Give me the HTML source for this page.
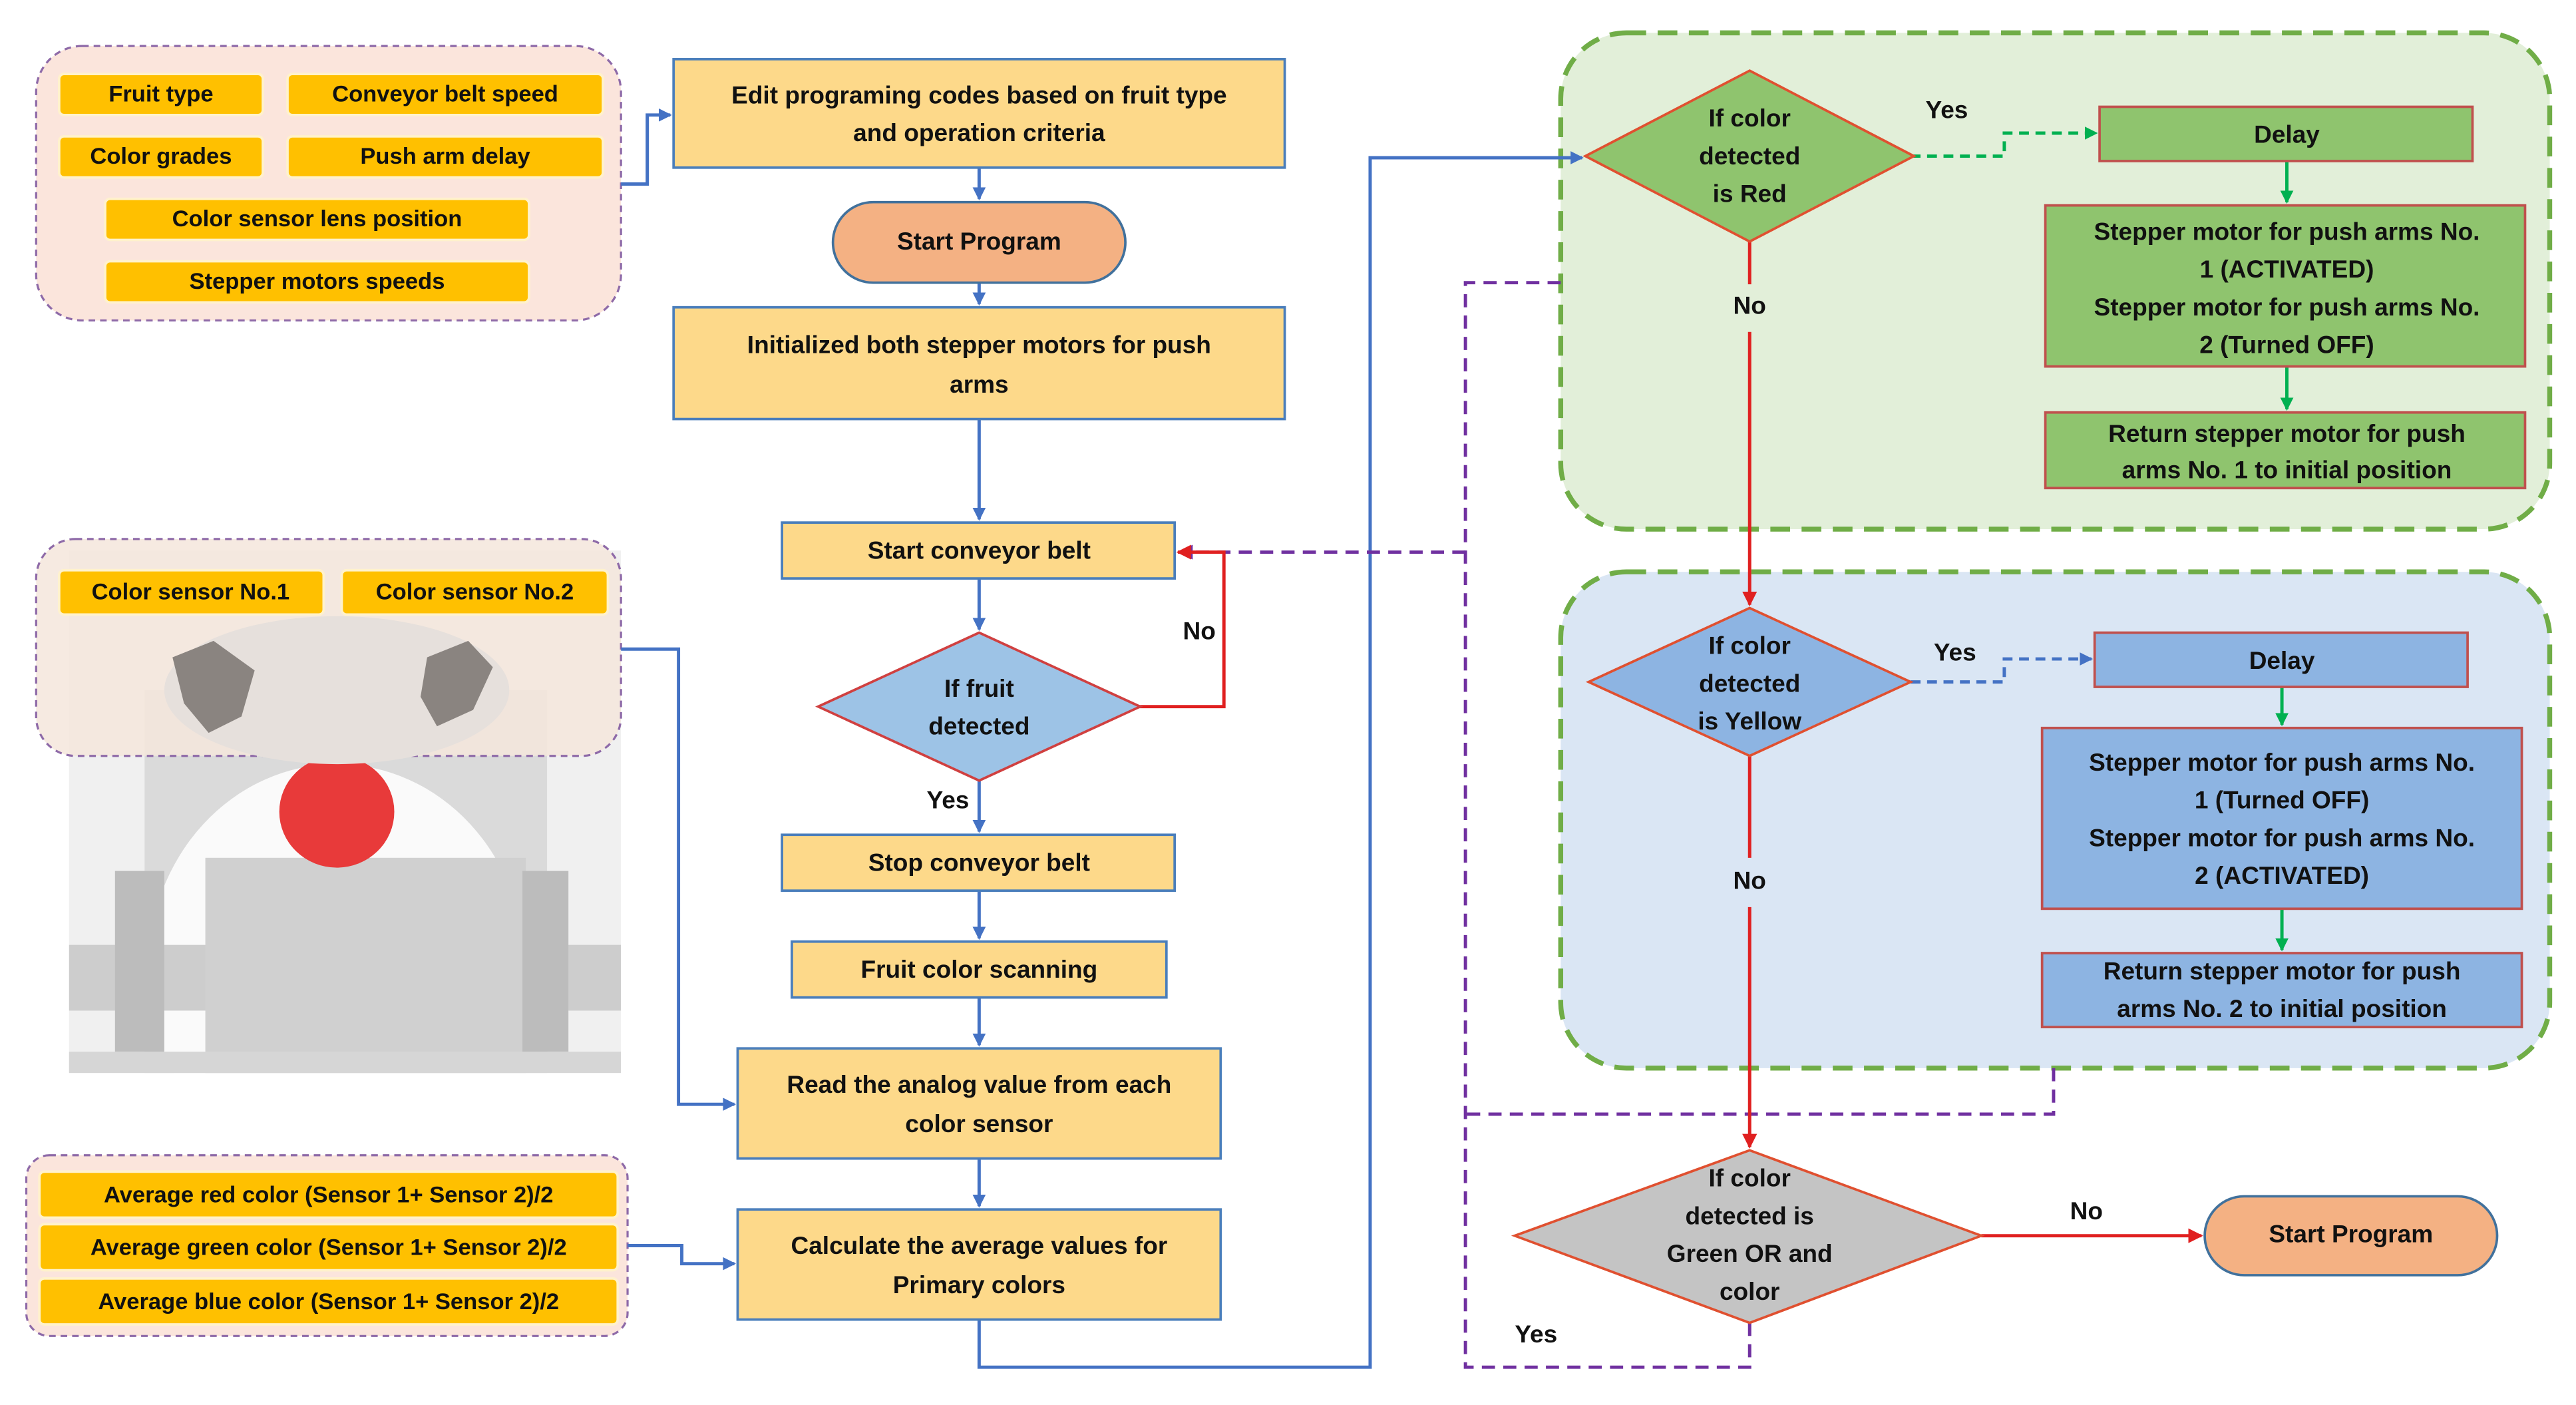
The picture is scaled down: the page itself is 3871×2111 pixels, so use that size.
<!DOCTYPE html>
<html><head><meta charset="utf-8"><style>
html,body{margin:0;padding:0;background:#fff;}
svg{display:block;}
text{font-family:"Liberation Sans",sans-serif;font-weight:bold;fill:#111;text-anchor:middle;dominant-baseline:middle;}
</style></head><body>
<svg width="3871" height="2111" viewBox="0 0 1568 855" preserveAspectRatio="none" xmlns="http://www.w3.org/2000/svg">
<defs>
<marker id="ab" markerWidth="8" markerHeight="8" refX="7" refY="4" orient="auto" markerUnits="userSpaceOnUse"><path d="M0,0 L8,4 L0,8 z" fill="#4472c4"/></marker>
<marker id="ar" markerWidth="9" markerHeight="9" refX="8" refY="4.5" orient="auto" markerUnits="userSpaceOnUse"><path d="M0,0 L9,4.5 L0,9 z" fill="#e02020"/></marker>
<marker id="ag" markerWidth="8" markerHeight="8" refX="7" refY="4" orient="auto" markerUnits="userSpaceOnUse"><path d="M0,0 L8,4 L0,8 z" fill="#00b050"/></marker>
<marker id="ap" markerWidth="9" markerHeight="9" refX="8" refY="4.5" orient="auto" markerUnits="userSpaceOnUse"><path d="M0,0 L9,4.5 L0,9 z" fill="#7030a0"/></marker>
<clipPath id="ill"><rect x="42" y="335" width="336" height="318"/></clipPath>
</defs>

<!-- left machine illustration -->
<g clip-path="url(#ill)">
<rect x="42" y="335" width="336" height="318" fill="#f0f0f0"/>
<rect x="88" y="420" width="245" height="233" fill="#dadada"/>
<ellipse cx="205" cy="590" rx="115" ry="125" fill="#fafafa"/>
<rect x="42" y="575" width="336" height="40" fill="#cdcdcd"/>
<rect x="125" y="522" width="195" height="131" fill="#d0d0d0"/>
<rect x="70" y="530" width="30" height="110" fill="#bcbcbc"/>
<rect x="318" y="530" width="28" height="110" fill="#bcbcbc"/>
<rect x="42" y="640" width="336" height="13" fill="#d6d6d6"/>
<ellipse cx="205" cy="494" rx="35" ry="34" fill="#e83a3a"/>
</g>

<!-- left box 1 -->
<rect x="22" y="28" width="356" height="167" rx="28" fill="#fbe5dc" stroke="#8e6aa8" stroke-width="1.3" stroke-dasharray="4,3"/>
<g fill="#ffc000" stroke="#fff2cc" stroke-width="1.5">
<rect x="36" y="45" width="124" height="25" rx="3"/>
<rect x="175" y="45" width="192" height="25" rx="3"/>
<rect x="36" y="83" width="124" height="25" rx="3"/>
<rect x="175" y="83" width="192" height="25" rx="3"/>
<rect x="64" y="121" width="258" height="25" rx="3"/>
<rect x="64" y="159" width="258" height="25" rx="3"/>
</g>
<g font-size="14">
<text x="98" y="58">Fruit type</text>
<text x="271" y="58">Conveyor belt speed</text>
<text x="98" y="96">Color grades</text>
<text x="271" y="96">Push arm delay</text>
<text x="193" y="134">Color sensor lens position</text>
<text x="193" y="172">Stepper motors speeds</text>
</g>

<!-- left sensor box -->
<rect x="22" y="328" width="356" height="132" rx="24" fill="#f5e6dc" fill-opacity="0.85" stroke="#8e6aa8" stroke-width="1.3" stroke-dasharray="4,3"/>
<ellipse cx="205" cy="420" rx="105" ry="45" fill="#e6e0dc"/>
<path d="M105,400 l25,-10 l25,18 l-8,28 l-20,10 l-15,-18z" fill="#8a8480"/>
<path d="M260,400 l25,-10 l15,16 l-12,26 l-22,10 l-10,-18z" fill="#8a8480"/>
<g fill="#ffc000" stroke="#fff2cc" stroke-width="1.5">
<rect x="36" y="347" width="161" height="27" rx="3"/>
<rect x="208" y="347" width="162" height="27" rx="3"/>
</g>
<text x="116" y="361" font-size="14">Color sensor No.1</text>
<text x="289" y="361" font-size="14">Color sensor No.2</text>

<!-- average box -->
<rect x="16" y="703" width="366" height="110" rx="14" fill="#fbe5dc" stroke="#8e6aa8" stroke-width="1.3" stroke-dasharray="4,3"/>
<g fill="#ffc000" stroke="#fff2cc" stroke-width="1.5">
<rect x="24" y="713" width="352" height="28" rx="3"/>
<rect x="24" y="745" width="352" height="28" rx="3"/>
<rect x="24" y="778" width="352" height="28" rx="3"/>
</g>
<g font-size="14">
<text x="200" y="728">Average red color (Sensor 1+ Sensor 2)/2</text>
<text x="200" y="760">Average green color (Sensor 1+ Sensor 2)/2</text>
<text x="200" y="793">Average blue color (Sensor 1+ Sensor 2)/2</text>
</g>

<!-- right containers -->
<rect x="950" y="20" width="602" height="302" rx="40" fill="#e2efd9" stroke="#70ad47" stroke-width="3" stroke-dasharray="12,7"/>
<rect x="950" y="348" width="602" height="302" rx="40" fill="#dae6f4" stroke="#70ad47" stroke-width="3" stroke-dasharray="12,7"/>

<!-- blue connectors -->
<g stroke="#4472c4" stroke-width="2" fill="none">
<polyline points="378,112 394,112 394,70 408,70" marker-end="url(#ab)"/>
<polyline points="378,395 413,395 413,672 447,672" marker-end="url(#ab)"/>
<polyline points="382,758 415,758 415,769 447,769" marker-end="url(#ab)"/>
<polyline points="596,803 596,832 834,832 834,96 963,96" marker-end="url(#ab)"/>
<line x1="596" y1="102" x2="596" y2="121" marker-end="url(#ab)"/>
<line x1="596" y1="172" x2="596" y2="185" marker-end="url(#ab)"/>
<line x1="596" y1="255" x2="596" y2="316" marker-end="url(#ab)"/>
<line x1="596" y1="352" x2="596" y2="383" marker-end="url(#ab)"/>
<line x1="596" y1="475" x2="596" y2="506" marker-end="url(#ab)"/>
<line x1="596" y1="542" x2="596" y2="571" marker-end="url(#ab)"/>
<line x1="596" y1="607" x2="596" y2="636" marker-end="url(#ab)"/>
<line x1="596" y1="705" x2="596" y2="734" marker-end="url(#ab)"/>
</g>

<!-- purple dashed -->
<g stroke="#7030a0" stroke-width="2" fill="none" stroke-dasharray="8,5">
<polyline points="950,172 892,172 892,832 1065,832 1065,805"/>
<polyline points="1250,650 1250,678 892,678"/>
<line x1="892" y1="336" x2="718" y2="336" marker-end="url(#ap)"/>
</g>

<!-- red connectors -->
<g stroke="#e02020" stroke-width="2" fill="none">
<polyline points="693,430 745,430 745,336 717,336" marker-end="url(#ar)"/>
<line x1="1065" y1="147" x2="1065" y2="173"/>
<line x1="1065" y1="202" x2="1065" y2="368" marker-end="url(#ar)"/>
<line x1="1065" y1="460" x2="1065" y2="522"/>
<line x1="1065" y1="552" x2="1065" y2="698" marker-end="url(#ar)"/>
<line x1="1206" y1="752" x2="1340" y2="752" marker-end="url(#ar)"/>
</g>

<!-- yes dashed -->
<polyline points="1163,95 1220,95 1220,81 1276,81" fill="none" stroke="#00b050" stroke-width="2" stroke-dasharray="6,4" marker-end="url(#ag)"/>
<polyline points="1163,415 1220,415 1220,401 1273,401" fill="none" stroke="#4472c4" stroke-width="2" stroke-dasharray="6,4" marker-end="url(#ab)"/>
<g stroke="#00b050" stroke-width="2">
<line x1="1392" y1="98" x2="1392" y2="123" marker-end="url(#ag)"/>
<line x1="1392" y1="223" x2="1392" y2="249" marker-end="url(#ag)"/>
<line x1="1389" y1="418" x2="1389" y2="441" marker-end="url(#ag)"/>
<line x1="1389" y1="553" x2="1389" y2="578" marker-end="url(#ag)"/>
</g>

<!-- main flow boxes -->
<g fill="#fdd98a" stroke="#4a7ebb" stroke-width="1.5">
<rect x="410" y="36" width="372" height="66"/>
<rect x="410" y="187" width="372" height="68"/>
<rect x="476" y="318" width="239" height="34"/>
<rect x="476" y="508" width="239" height="34"/>
<rect x="482" y="573" width="228" height="34"/>
<rect x="449" y="638" width="294" height="67"/>
<rect x="449" y="736" width="294" height="67"/>
</g>
<rect x="507" y="123" width="178" height="49" rx="24.5" fill="#f4b183" stroke="#41719c" stroke-width="1.5"/>
<polygon points="596,385 694,430 596,475 498,430" fill="#9dc3e6" stroke="#d04040" stroke-width="1.5"/>
<g font-size="15">
<text x="596" y="59">Edit programing codes based on fruit type</text>
<text x="596" y="82">and operation criteria</text>
<text x="596" y="148">Start Program</text>
<text x="596" y="211">Initialized both stepper motors for push</text>
<text x="596" y="235">arms</text>
<text x="596" y="336">Start conveyor belt</text>
<text x="596" y="420">If fruit</text>
<text x="596" y="443">detected</text>
<text x="577" y="488">Yes</text>
<text x="730" y="385">No</text>
<text x="596" y="526">Stop conveyor belt</text>
<text x="596" y="591">Fruit color scanning</text>
<text x="596" y="661">Read the analog value from each</text>
<text x="596" y="685">color sensor</text>
<text x="596" y="759">Calculate the average values for</text>
<text x="596" y="783">Primary colors</text>
</g>

<!-- right shapes -->
<polygon points="1065,43 1165,95 1065,147 965,95" fill="#8fc46e" stroke="#e05030" stroke-width="1.5"/>
<polygon points="1065,370 1163,415 1065,460 967,415" fill="#8db4e2" stroke="#e05030" stroke-width="1.5"/>
<polygon points="1065,700 1206,752 1065,805 922,752" fill="#c4c4c4" stroke="#e05030" stroke-width="1.5"/>
<g fill="#8fc46e" stroke="#c0504d" stroke-width="1.5">
<rect x="1278" y="65" width="227" height="33"/>
<rect x="1245" y="125" width="292" height="98"/>
<rect x="1245" y="251" width="292" height="46"/>
</g>
<g fill="#8db4e2" stroke="#c0504d" stroke-width="1.5">
<rect x="1275" y="385" width="227" height="33"/>
<rect x="1243" y="443" width="292" height="110"/>
<rect x="1243" y="580" width="292" height="45"/>
</g>
<rect x="1342" y="728" width="178" height="48" rx="24" fill="#f4b183" stroke="#41719c" stroke-width="1.5"/>
<g font-size="15">
<text x="1065" y="73">If color</text>
<text x="1065" y="96">detected</text>
<text x="1065" y="119">is Red</text>
<text x="1185" y="68">Yes</text>
<text x="1065" y="187">No</text>
<text x="1392" y="83">Delay</text>
<text x="1392" y="142">Stepper motor for push arms No.</text>
<text x="1392" y="165">1  (ACTIVATED)</text>
<text x="1392" y="188">Stepper motor for push arms No.</text>
<text x="1392" y="211">2  (Turned OFF)</text>
<text x="1392" y="265">Return stepper motor for push</text>
<text x="1392" y="287">arms No. 1 to initial position</text>
<text x="1065" y="394">If color</text>
<text x="1065" y="417">detected</text>
<text x="1065" y="440">is Yellow</text>
<text x="1190" y="398">Yes</text>
<text x="1065" y="537">No</text>
<text x="1389" y="403">Delay</text>
<text x="1389" y="465">Stepper motor for push arms No.</text>
<text x="1389" y="488">1  (Turned OFF)</text>
<text x="1389" y="511">Stepper motor for push arms No.</text>
<text x="1389" y="534">2  (ACTIVATED)</text>
<text x="1389" y="592">Return stepper motor for push</text>
<text x="1389" y="615">arms No. 2 to initial position</text>
<text x="1065" y="718">If color</text>
<text x="1065" y="741">detected is</text>
<text x="1065" y="764">Green OR and</text>
<text x="1065" y="787">color</text>
<text x="1270" y="738">No</text>
<text x="1431" y="752">Start Program</text>
<text x="935" y="813">Yes</text>
</g>
</svg>
</body></html>
